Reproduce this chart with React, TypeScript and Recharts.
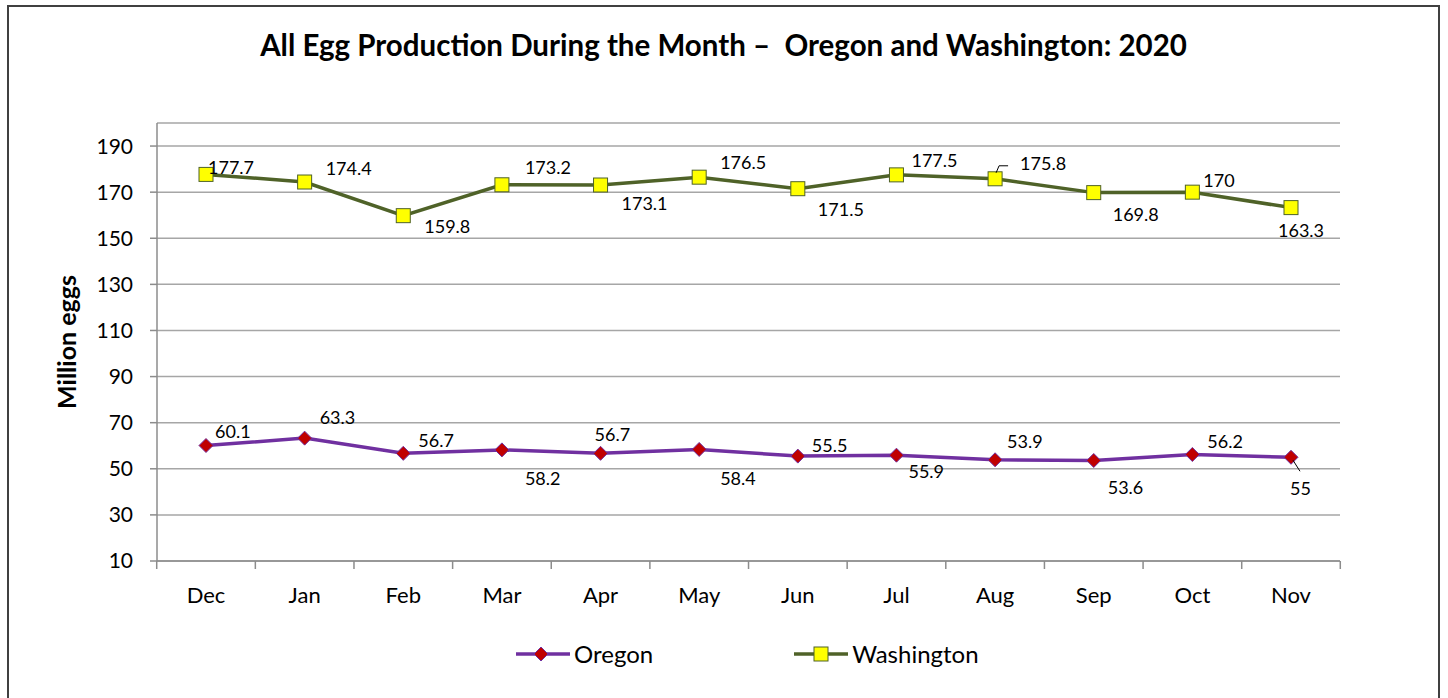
import { LineChart, Line, XAxis, YAxis, CartesianGrid } from 'recharts'

const months = ['Dec', 'Jan', 'Feb', 'Mar', 'Apr', 'May', 'Jun', 'Jul', 'Aug', 'Sep', 'Oct', 'Nov']
const oregon = [60.1, 63.3, 56.7, 58.2, 56.7, 58.4, 55.5, 55.9, 53.9, 53.6, 56.2, 55]
const washington = [177.7, 174.4, 159.8, 173.2, 173.1, 176.5, 171.5, 177.5, 175.8, 169.8, 170, 163.3]
const yTicks = [10, 30, 50, 70, 90, 110, 130, 150, 170, 190]

const data = months.map((m, i) => ({ month: m, oregon: oregon[i], washington: washington[i] }))

// label placement: [dx to text start, dy to text middle]
const waLabelPos = [[2, -7], [21, -14], [21, 10], [23, -18], [21, 18], [21, -15], [20, 20], [15, -15], [25, -16], [19, 21], [11, -12], [-13, 22]]
const orLabelPos = [[9, -15], [15, -21], [15, -13], [23, 28], [-6, -19], [21, 29], [14, -11], [12, 16], [12, -19], [14, 27], [15, -13], [-1, 31]]

const FONT = 'Lato, "Open Sans", sans-serif'
const GREEN = '#4F6228'
const PURPLE = '#7030A0'
const AXIS = '#8C8C8C'

const makeLabel = (pos: number[][], leader: number) => (props: any) => {
  const { x, y, index, value } = props
  const [dx, dy] = pos[index]
  return (
    <g key={`l${index}`}>
      {index === leader && leader === 8 && (
        <polyline points={`${x + 1},${y - 6} ${x + 4},${y - 13} ${x + 13},${y - 13}`} fill="none" stroke="#000" strokeWidth={1} />
      )}
      {index === leader && leader === 11 && (
        <line x1={x + 2} y1={y + 3} x2={x + 9} y2={y + 14} stroke="#000" strokeWidth={1} />
      )}
      <text x={x + dx} y={y + dy} dominantBaseline="central" fontSize={18} fill="#000" fontFamily={FONT}>
        {value}
      </text>
    </g>
  )
}

const Square = (props: any) => {
  const { cx, cy, index } = props
  return <rect key={`s${index}`} x={cx - 7} y={cy - 7} width={14} height={14} fill="#FFFF00" stroke={GREEN} strokeWidth={1} />
}

const Diamond = (props: any) => {
  const { cx, cy, index } = props
  return (
    <polygon key={`d${index}`} points={`${cx},${cy - 7} ${cx + 7},${cy} ${cx},${cy + 7} ${cx - 7},${cy}`} fill="#C00000" stroke={PURPLE} strokeWidth={1} />
  )
}

// category tick: label centred, tick marks between categories (Excel style)
const MonthTick = (props: any) => {
  const { x, y, payload, index, width } = props
  const half = width / months.length / 2
  const axisY = y - 28
  return (
    <g>
      <line x1={x - half} y1={axisY} x2={x - half} y2={axisY + 8} stroke={AXIS} strokeWidth={1.5} />
      {index === months.length - 1 && (
        <line x1={x + half} y1={axisY} x2={x + half} y2={axisY + 8} stroke={AXIS} strokeWidth={1.5} />
      )}
      <text x={x} y={y - 2} dy="0.71em" textAnchor="middle" fontSize={22} fill="#000" fontFamily={FONT}>
        {payload.value}
      </text>
    </g>
  )
}

export default function App() {
  return (
    <div style={{
      position: 'absolute', left: 7, top: 5, width: 1429, height: 696,
      border: '2px solid #404040', background: '#fff', fontFamily: FONT
    }}>
      <div style={{
        position: 'absolute', left: 0, right: 0, top: 20, textAlign: 'center',
        fontSize: 29.5, fontWeight: 700, whiteSpace: 'pre', color: '#000'
      }}>
        {'All Egg Production During the Month –  Oregon and Washington: 2020'}
      </div>
      <LineChart width={1429} height={691} data={data}
        margin={{ top: 116, right: 98, left: 58, bottom: 136 }}>
        <CartesianGrid vertical={false} stroke="#A6A6A6" strokeWidth={1.5} />
        <XAxis dataKey="month" type="category" height={1} padding={{ left: 49, right: 49 }}
          axisLine={{ stroke: AXIS, strokeWidth: 1.5 }} tickLine={false} tickSize={8} tickMargin={20}
          tick={<MonthTick />} interval={0} />
        <YAxis domain={[10, 200]} ticks={yTicks} width={90} interval={0}
          axisLine={{ stroke: AXIS, strokeWidth: 1.5 }} tickLine={{ stroke: AXIS, strokeWidth: 1.5 }}
          tickSize={7} tickMargin={17} tick={{ fill: '#000', fontSize: 21, fontFamily: FONT }}
          label={({ viewBox }: any) => (
            <text x={viewBox.x - 1} y={viewBox.y + viewBox.height / 2} transform={`rotate(-90 ${viewBox.x - 1} ${viewBox.y + viewBox.height / 2})`}
              textAnchor="middle" dominantBaseline="central" fontSize={25} fontWeight={700} fontFamily={FONT} fill="#000">
              Million eggs
            </text>
          )} />
        <Line dataKey="washington" name="Washington" stroke={GREEN} strokeWidth={3.5} dot={<Square />}
          isAnimationActive={false} label={makeLabel(waLabelPos, 8)} />
        <Line dataKey="oregon" name="Oregon" stroke={PURPLE} strokeWidth={3.5} dot={<Diamond />}
          isAnimationActive={false} label={makeLabel(orLabelPos, 11)} />
      </LineChart>
      <div style={{
        position: 'absolute', top: 632, left: 507, display: 'flex', alignItems: 'center',
        fontSize: 24, color: '#000'
      }}>
        <svg width={56} height={20}>
          <line x1={0} y1={10} x2={54} y2={10} stroke={PURPLE} strokeWidth={3.5} />
          <polygon points="25,3 32,10 25,17 18,10" fill="#C00000" stroke={PURPLE} strokeWidth={1} />
        </svg>
        <span style={{ marginLeft: 2 }}>Oregon</span>
        <svg width={56} height={20} style={{ marginLeft: 141 }}>
          <line x1={0} y1={10} x2={54} y2={10} stroke={GREEN} strokeWidth={3.5} />
          <rect x={20} y={3} width={14} height={14} fill="#FFFF00" stroke={GREEN} strokeWidth={1} />
        </svg>
        <span style={{ marginLeft: 2 }}>Washington</span>
      </div>
    </div>
  )
}
